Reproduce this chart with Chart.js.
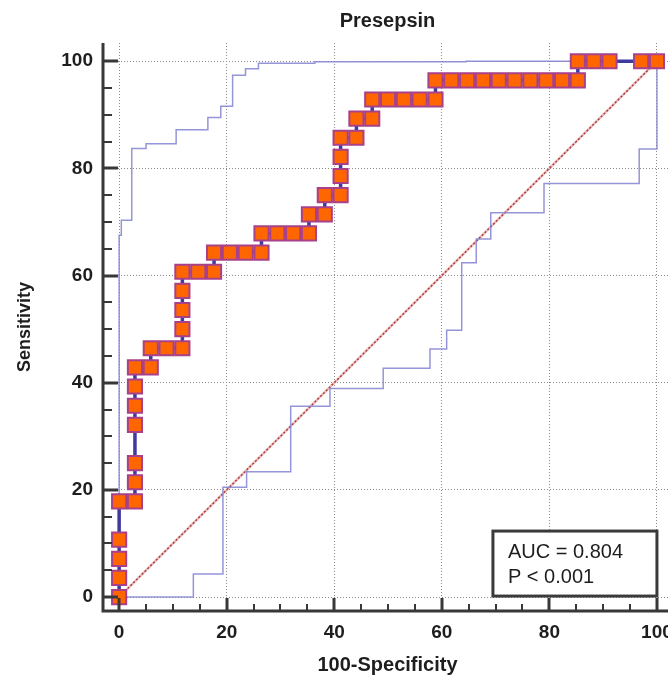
<!DOCTYPE html>
<html>
<head>
<meta charset="utf-8">
<script src="https://cdn.jsdelivr.net/npm/chart.js@4/dist/chart.umd.min.js"></script>
<style>
  html, body { margin: 0; padding: 0; background: #ffffff; overflow: hidden; }
  #wrap { position: relative; width: 700px; height: 676px; }
</style>
</head>
<body>
<div id="wrap"><canvas id="c"></canvas></div>
<script>
// ----- data -----
const chartTitle = 'Presepsin';
const xAxisTitle = '100-Specificity';
const yAxisTitle = 'Sensitivity';
const xTickValues = [0, 20, 40, 60, 80, 100];
const yTickValues = [0, 20, 40, 60, 80, 100];
const minorStep = 5;

// ROC curve (100-Specificity, Sensitivity)
const rocX = [0, 0, 0, 0, 0, 2.94, 2.94, 2.94, 2.94, 2.94, 2.94, 2.94, 5.88, 5.88, 8.82,
  11.76, 11.76, 11.76, 11.76, 11.76, 14.71, 17.65, 17.65, 20.59, 23.53, 26.47, 26.47,
  29.41, 32.35, 35.29, 35.29, 38.24, 38.24, 41.18, 41.18, 41.18, 41.18, 44.12, 44.12,
  47.06, 47.06, 50.00, 52.94, 55.88, 58.82, 58.82, 61.76, 64.71, 67.65, 70.59, 73.53,
  76.47, 79.41, 82.35, 85.29, 85.29, 88.24, 91.18, 97.06, 100];
const rocY = [0, 3.57, 7.14, 10.71, 17.86, 17.86, 21.43, 25.00, 32.14, 35.71, 39.29, 42.86, 42.86, 46.43, 46.43,
  46.43, 50.00, 53.57, 57.14, 60.71, 60.71, 60.71, 64.29, 64.29, 64.29, 64.29, 67.86,
  67.86, 67.86, 67.86, 71.43, 71.43, 75.00, 75.00, 78.57, 82.14, 85.71, 85.71, 89.29,
  89.29, 92.86, 92.86, 92.86, 92.86, 92.86, 96.43, 96.43, 96.43, 96.43, 96.43, 96.43,
  96.43, 96.43, 96.43, 96.43, 100, 100, 100, 100, 100];

// Upper confidence bound (step function: x where the jump happens, new level)
const upperX = [0, 0, 0.4, 2.35, 5.0, 10.6, 16.5, 18.9, 21.1, 23.5, 25.9, 36.4, 64.5, 100];
const upperY = [0, 67.5, 70.3, 83.7, 84.6, 87.2, 89.5, 91.6, 97.4, 98.6, 99.6, 99.9, 100, 100];

// Lower confidence bound
const lowerX = [0, 13.8, 19.3, 23.7, 31.9, 39.2, 49.1, 57.8, 60.9, 63.7, 66.4, 69.1, 79.0, 96.7, 100];
const lowerY = [0, 4.3, 20.5, 23.4, 35.6, 38.9, 42.7, 46.3, 49.8, 62.4, 66.8, 71.7, 77.2, 83.6, 100];

// Reference diagonal
const diagX = [0, 100];
const diagY = [0, 100];

const statLines = ['AUC = 0.804', 'P < 0.001'];

// ----- helpers -----
const pts = (xs, ys) => xs.map((x, i) => ({ x: x, y: ys[i] }));
const FONT = "'Liberation Sans', Arial, Helvetica, sans-serif";
Chart.defaults.font.family = FONT;
Chart.defaults.color = '#1e1e1e';

const axesPlugin = {
  id: 'axesPlugin',
  afterDatasetsDraw(chart) {
    const { ctx, chartArea: a, scales: { x: xs, y: ys } } = chart;
    ctx.save();
    ctx.strokeStyle = '#383838';
    ctx.lineCap = 'butt';
    // axis lines
    ctx.lineWidth = 3;
    ctx.beginPath();
    ctx.moveTo(a.left, a.top);
    ctx.lineTo(a.left, a.bottom);
    ctx.lineTo(a.right + 2, a.bottom);
    ctx.stroke();
    const xMax = xTickValues[xTickValues.length - 1];
    const yMax = yTickValues[yTickValues.length - 1];
    // minor ticks
    ctx.lineWidth = 2;
    ctx.beginPath();
    for (let v = xTickValues[0]; v <= xMax; v += minorStep) {
      if (xTickValues.includes(v)) continue;
      const px = Math.round(xs.getPixelForValue(v));
      ctx.moveTo(px, a.bottom);
      ctx.lineTo(px, a.bottom - 7);
    }
    for (let v = yTickValues[0]; v <= yMax; v += minorStep) {
      if (yTickValues.includes(v)) continue;
      const py = Math.round(ys.getPixelForValue(v));
      ctx.moveTo(a.left, py);
      ctx.lineTo(a.left + 9, py);
    }
    ctx.stroke();
    // major ticks
    ctx.lineWidth = 3;
    ctx.beginPath();
    xTickValues.forEach(v => {
      const px = Math.round(xs.getPixelForValue(v));
      ctx.moveTo(px, a.bottom);
      ctx.lineTo(px, a.bottom - 13);
    });
    yTickValues.forEach(v => {
      const py = Math.round(ys.getPixelForValue(v));
      ctx.moveTo(a.left, py);
      ctx.lineTo(a.left + 15, py);
    });
    ctx.stroke();

    // statistics box anchored at the bottom-right of the data range
    const right = xs.getPixelForValue(xMax);
    const bottom = ys.getPixelForValue(0) - 1;
    const w = 164, h = 65;
    ctx.fillStyle = '#ffffff';
    ctx.fillRect(right - w, bottom - h, w, h);
    ctx.lineWidth = 3;
    ctx.strokeStyle = '#3a3a3a';
    ctx.strokeRect(right - w, bottom - h, w, h);
    ctx.fillStyle = '#1e1e1e';
    ctx.font = '20px ' + FONT;
    ctx.textAlign = 'left';
    ctx.textBaseline = 'middle';
    statLines.forEach((t, i) => {
      ctx.fillText(t, right - w + 15, bottom - h + 21 + i * 25.5);
    });
    ctx.restore();
  }
};

const gridOpts = { color: '#8a8a8a', lineWidth: 1, drawTicks: false };
const borderOpts = { display: false, dash: [1, 2] };

new Chart(document.getElementById('c'), {
  type: 'scatter',
  data: {
    datasets: [
      {
        label: 'ROC',
        data: pts(rocX, rocY),
        showLine: true,
        borderColor: '#3f3aa0',
        borderWidth: 3.5,
        pointStyle: 'rect',
        pointRadius: 10,
        pointBackgroundColor: '#ff6600',
        pointBorderColor: '#a8408a',
        pointBorderWidth: 2,
        tension: 0
      },
      {
        label: 'Upper',
        data: pts(upperX, upperY),
        showLine: true,
        stepped: 'before',
        borderColor: 'rgba(130,130,210,0.85)',
        borderWidth: 1.5,
        pointRadius: 0
      },
      {
        label: 'Lower',
        data: pts(lowerX, lowerY),
        showLine: true,
        stepped: 'before',
        borderColor: 'rgba(130,130,210,0.85)',
        borderWidth: 1.5,
        pointRadius: 0
      },
      {
        label: 'Diagonal',
        data: pts(diagX, diagY),
        showLine: true,
        borderColor: '#a83a3a',
        borderWidth: 1.4,
        borderDash: [2, 2],
        pointRadius: 0
      },
      {
        label: 'DiagonalGlow',
        data: pts(diagX, diagY),
        showLine: true,
        borderColor: 'rgba(225,160,160,0.7)',
        borderWidth: 2.5,
        pointRadius: 0
      }
    ]
  },
  options: {
    responsive: true,
    maintainAspectRatio: false,
    animation: false,
    events: [],
    layout: { padding: { left: 0, right: 28, top: 0, bottom: 0 } },
    plugins: {
      legend: { display: false },
      tooltip: { enabled: false },
      title: {
        display: true,
        text: chartTitle,
        fullSize: false,
        color: '#1e1e1e',
        font: { size: 20, weight: 'bold', lineHeight: 1.2 },
        padding: { top: 9, bottom: 10 }
      }
    },
    scales: {
      x: {
        type: 'linear',
        min: -3,
        max: 102.8,
        afterBuildTicks: s => { s.ticks = xTickValues.map(v => ({ value: v })); },
        afterFit: s => { s.height = 65; },
        grid: gridOpts,
        border: borderOpts,
        ticks: { font: { size: 19, weight: 'bold', lineHeight: 1.2 }, color: '#1e1e1e', padding: 10, maxRotation: 0 },
        title: {
          display: true,
          text: xAxisTitle,
          color: '#1e1e1e',
          font: { size: 20, weight: 'bold', lineHeight: 1.1 },
          padding: { top: 0, bottom: 0 }
        }
      },
      y: {
        type: 'linear',
        min: -2.6,
        max: 103.4,
        afterBuildTicks: s => { s.ticks = yTickValues.map(v => ({ value: v })); },
        afterFit: s => { s.width = 103; },
        grid: gridOpts,
        border: borderOpts,
        ticks: { font: { size: 19, weight: 'bold', lineHeight: 1.2 }, color: '#1e1e1e', padding: 10 },
        title: {
          display: true,
          text: yAxisTitle,
          color: '#1e1e1e',
          font: { size: 18, weight: 'bold', lineHeight: 1.2 },
          padding: { top: 14, bottom: 0 }
        }
      }
    }
  },
  plugins: [axesPlugin]
});
</script>
</body>
</html>
